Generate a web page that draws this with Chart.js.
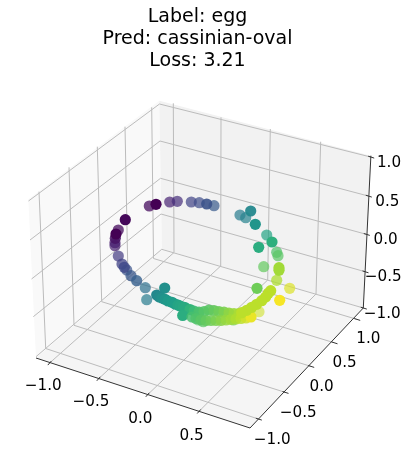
<!DOCTYPE html>
<html><head><meta charset="utf-8">
<style>html,body{margin:0;padding:0;background:#fff}canvas{display:block}</style>
<script src="https://cdn.jsdelivr.net/npm/chart.js@4"></script>
</head><body><canvas id="c" width="410" height="459"></canvas>
<script>
const titleLines = ["Label: egg", "Pred: cassinian-oval", "Loss: 3.21"];
const xTickLabels = ["\u22121.0", "\u22120.5", "0.0", "0.5"];
const yTickLabels = ["\u22121.0", "\u22120.5", "0.0", "0.5", "1.0"];
const zTickLabels = ["\u22121.0", "\u22120.5", "0.0", "0.5", "1.0"];

// Positions, in plane units
const paneLeft  = [[36,358],[28.3,199.3],[159.3,100.7],[162,249]];
const paneRight = [[162,249],[159.3,100.7],[370.7,155.7],[363.3,308]];
const paneFloor = [[36,358],[162,249],[363.3,308],[250,428]];
const axisLine  = [[36,358],[250,428],[363.3,308],[370.9,155.7]];

const xAxisTicks = [[49.3,363.3],[98.3,379],[147.3,395],[198.7,411.7]];
const xBack      = [[174,252.5],[220.7,266],[267.7,280],[316,294]];
const xTop       = [[173.3,103.3],[221,117.3],[270.3,129],[320.7,141.7]];
const yAxisTicks = [[258.3,419],[285,392.3],[310.7,366.3],[334,342.7],[356.7,319.3]];
const yLeft      = [[45.7,348.5],[74,325.3],[101.7,301.7],[128,280],[153.5,258.5]];
const yTop       = [[39,191.7],[69,167.3],[97.3,146.7],[125,126.7],[151.7,107.3]];
const zAxisTicks = [[363.3,308],[365,271.7],[366.3,234.3],[368.3,196],[370.7,157]];
const zBack      = [[161.7,249.3],[161,214],[160.5,178.3],[160,141],[159.5,104]];
const zLeft      = [[36,356.7],[33.3,316.7],[31.5,279],[30,240],[28.5,201]];

const xLabelPos = [[43.3,385.7],[91,401.7],[140.3,418.3],[191.7,435.7]];
const yLabelPos = [[272.3,439],[298.3,412.3],[321.7,386],[344.7,362.3],[368.3,338.3]];
const zLabelPos = [[382.3,313.3],[383.3,276.7],[385.7,239],[387.3,201],[389,162.3]];

// Scatter points: projected position, colour value, depth alpha
const ptX = [149.3,169.7,177.3,191.3,199.3,214,240,245.7,118.3,115,115,118.3,122,126.7,146.7,145.3,266.7,276.7,278,263.7,289.7,276.7,259,198.3,203.3,233.3,198.3,
 131,136.7,124.3,115.3,206.7,250.7,125.3,156,116,255.3,272,258.7,279,279,257,279.7,164.7,156.7,159.3,162,165,168,172,175,178,180,183,185,190,182.7,
 194,199,204,209,214,219,224,229,234,239,244,249,
 192,196,201,206,211,216,221,226,231,236,241,246,251,
 270.7,268.3,265.7,261.7,256.7,251.7,246.7,241.7];
const ptY = [206,202,201.3,202,202.7,205.7,215,217.7,230,242.7,245.7,256,264,270,299.7,287.7,235,252.3,255.7,266.7,288.3,280.3,311.7,313,321.7,320,320,
 275.7,280.7,267.3,238.3,204,211,219.7,204.3,234,224.3,242,247.3,267.7,270.3,288.3,300.3,288,295,297,298,299.3,301,302.3,304,305,306,307,307.5,309.5,315.5,
 311,312,311.5,310,310.5,311.5,312,313,313.5,313.5,313,312,
 317,318.5,320,320.5,320.5,320.5,320.5,320,319.5,319,318.5,318,317,
 290.7,293.3,297,300.7,304.3,307.3,310.3,312.7];
const ptColor = [.03,.1,.13,.2,.23,.28,.42,.45,.03,.07,.09,.17,.2,.25,.42,.37,.58,.72,.74,.76,.95,.88,.93,.7,.74,.78,.72,
 .27,.3,.22,.05,.25,.47,.02,.0,.0,.52,.63,.62,.86,.86,.78,.99,.5,.47,.48,.5,.52,.54,.55,.56,.58,.59,.6,.61,.65,.62,
 .68,.71,.73,.74,.76,.78,.8,.83,.85,.87,.89,.91,
 .7,.72,.74,.76,.78,.8,.82,.84,.86,.88,.9,.93,.97,
 .9,.9,.9,.9,.9,.9,.9,.9];
const ptAlpha = [.75,.7,.7,.7,.7,.7,.7,.7,.75,.75,.7,.7,.75,.7,.7,.7,.7,.7,.7,.7,.7,.75,.6,.8,.7,.7,.6,
 .75,.8,.8,.85,.9,.95,1,1,1,1,1,1,1,1,1,1,1,1,1,1,1,1,1,1,1,1,1,1,1,1,
 .9,.9,.9,.9,.9,.9,.9,.9,.9,.9,.9,.9,
 .85,.85,.85,.85,.85,.85,.85,.85,.85,.85,.85,.85,1,
 1,1,1,1,1,1,1,1];

const VIRIDIS = [[68,1,84],[72,40,120],[62,74,137],[49,104,142],[38,130,142],[31,158,137],[53,183,121],[109,205,89],[180,222,44],[253,231,37]];
function viridis(t, a){
  const p = Math.min(t,1)*(VIRIDIS.length-1), i = Math.min(Math.floor(p),VIRIDIS.length-2), f = p-i;
  const c = VIRIDIS[i].map((v,k)=>Math.round(v+(VIRIDIS[i+1][k]-v)*f));
  return `rgba(${c[0]},${c[1]},${c[2]},${a})`;
}
function polyline(paths){
  const out=[];
  paths.forEach(p=>{p.forEach(q=>out.push({x:q[0],y:q[1]}));out.push({x:null,y:null});});
  return out;
}
const gridPaths = [];
xAxisTicks.forEach((p,i)=>gridPaths.push([p,xBack[i],xTop[i]]));
yAxisTicks.forEach((p,i)=>gridPaths.push([p,yLeft[i],yTop[i]]));
zAxisTicks.forEach((p,i)=>gridPaths.push([p,zBack[i],zLeft[i]]));

const tickPaths = [];
function addTicks(pts, dx0, dy0, dx1, dy1){ pts.forEach(p=>tickPaths.push([[p[0]+dx0,p[1]+dy0],[p[0]+dx1,p[1]+dy1]])); }
addTicks(xAxisTicks,-1.5,1.8,2,-2.2);
addTicks(yAxisTicks,-2.5,-0.8,3.5,1.1);
addTicks(zAxisTicks,-2.5,-0.8,3.5,1.1);

const planePlugin = {
  id:'plane',
  beforeDatasetsDraw(ch){
    const {ctx,scales:{x,y}} = ch;
    [[paneLeft,'#f9f9f9'],[paneRight,'#f2f2f2'],[paneFloor,'#f5f5f5']].forEach(([poly,col])=>{
      ctx.save();ctx.beginPath();
      poly.forEach((q,i)=>{const a=x.getPixelForValue(q[0]),b=y.getPixelForValue(q[1]);i?ctx.lineTo(a,b):ctx.moveTo(a,b);});
      ctx.closePath();ctx.fillStyle=col;ctx.fill();ctx.restore();
    });
  },
  afterDatasetsDraw(ch){
    const {ctx,scales:{x,y}} = ch;
    ctx.save();ctx.font='15.2px "DejaVu Sans"';ctx.fillStyle='#000';ctx.textAlign='center';ctx.textBaseline='middle';
    [[xTickLabels,xLabelPos],[yTickLabels,yLabelPos],[zTickLabels,zLabelPos]].forEach(([labs,pos])=>{
      labs.forEach((s,i)=>ctx.fillText(s,x.getPixelForValue(pos[i][0]),y.getPixelForValue(pos[i][1])+0.8));
    });
    ctx.restore();
  }
};

const SIZE = 19, LH = 22.2, PT = 5.5, PB = 5.5, RIGHT_PAD = 15;
const TITLE_H = PT + PB + LH*3;
new Chart(document.getElementById('c'),{
  type:'scatter',
  plugins:[planePlugin],
  data:{datasets:[
    {label:'grid',data:polyline(gridPaths),showLine:true,borderColor:'#bcbcbc',borderWidth:1,pointRadius:0,spanGaps:false,order:3},
    {label:'axes',data:polyline([axisLine]),showLine:true,borderColor:'#333',borderWidth:1,pointRadius:0,order:2},
    {label:'ticks',data:polyline(tickPaths),showLine:true,borderColor:'#333',borderWidth:1,pointRadius:0,spanGaps:false,order:2},
    {label:'points',data:ptX.map((v,i)=>({x:v,y:ptY[i]})),showLine:false,pointRadius:5.6,pointBorderWidth:0,
     pointBackgroundColor:ptColor.map((t,i)=>viridis(t,ptAlpha[i])),order:1}
  ]},
  options:{
    responsive:false,animation:false,
    layout:{padding:{left:0,top:0,bottom:0,right:RIGHT_PAD},autoPadding:false},
    scales:{
      x:{type:'linear',display:false,min:0,max:410-RIGHT_PAD},
      y:{type:'linear',display:false,min:TITLE_H,max:459,reverse:true}
    },
    plugins:{
      legend:{display:false},tooltip:{enabled:false},
      title:{display:true,fullSize:false,text:titleLines,color:'#000',font:{family:'"DejaVu Sans"',size:SIZE,weight:'normal',lineHeight:LH/SIZE},padding:{top:PT,bottom:PB}}
    }
  }
});
</script></body></html>
